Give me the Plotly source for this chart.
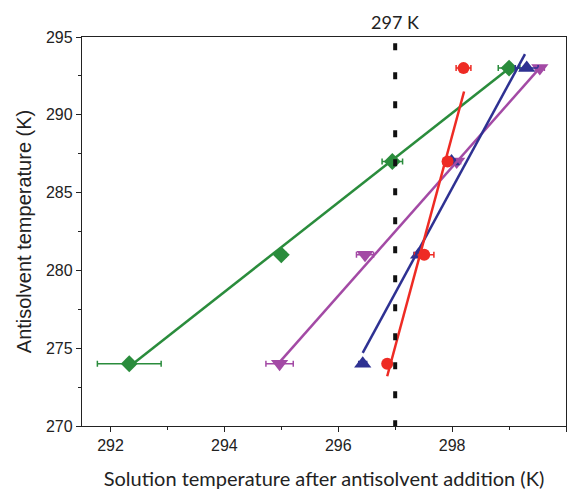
import plotly.graph_objects as go

# Antisolvent temperature levels (K)
antisolvent_T = [274, 281, 287, 293]

# Solution temperature after antisolvent addition (K) per series
green_x = [292.33, 295.0, 296.95, 299.0]
green_err = [0.56, 0.08, 0.18, 0.19]
red_x = [296.86, 297.51, 297.92, 298.2]
red_err = [0.05, 0.17, 0.08, 0.13]
blue_x = [296.43, 297.41, 297.99, 299.31]
blue_err = [0.07, 0.08, 0.06, 0.2]
purple_x = [294.97, 296.47, 298.08, 299.54]
purple_err = [0.24, 0.15, 0.07, 0.08]

# Fit line endpoints (x, y)
green_fit_x = [292.43, 299.04]
green_fit_y = [274.1, 293.1]
red_fit_x = [296.86, 298.21]
red_fit_y = [273.2, 291.5]
blue_fit_x = [296.43, 299.28]
blue_fit_y = [274.7, 293.9]
purple_fit_x = [294.97, 299.56]
purple_fit_y = [274.1, 293.1]

ref_T = 297
x_ticks = [292, 294, 296, 298, 300]
y_ticks = [270, 275, 280, 285, 290, 295]

GREEN = "#2a8c3c"
RED = "#ee2b24"
BLUE = "#2e3192"
PURPLE = "#a34aa5"

fig = go.Figure()

series = [
    (green_x, green_err, GREEN, "diamond", 13, green_fit_x, green_fit_y),
    (purple_x, purple_err, PURPLE, "triangle-down", 15, purple_fit_x, purple_fit_y),
    (blue_x, blue_err, BLUE, "triangle-up", 15, blue_fit_x, blue_fit_y),
    (red_x, red_err, RED, "circle", 12, red_fit_x, red_fit_y),
]

for xs, errs, col, sym, sz, fx, fy in series:
    fig.add_trace(go.Scatter(
        x=xs, y=antisolvent_T, mode="markers",
        marker=dict(symbol=sym, size=sz, color=col, line=dict(width=0)),
        error_x=dict(type="data", array=errs, visible=True, color=col,
                     thickness=1.5, width=3),
        showlegend=False, hoverinfo="skip", cliponaxis=False,
    ))
for xs, errs, col, sym, sz, fx, fy in series:
    fig.add_trace(go.Scatter(
        x=fx, y=fy, mode="lines",
        line=dict(color=col, width=2.5),
        showlegend=False, hoverinfo="skip",
    ))

fig.add_shape(type="line", xref="x", yref="y",
              x0=ref_T, x1=ref_T, y0=294.6, y1=270,
              line=dict(color="#111111", width=4, dash="7px,22px"))

fig.add_annotation(x=ref_T, y=1, xref="x", yref="paper",
                   text=f"{ref_T} K", showarrow=False,
                   yanchor="bottom", yshift=2,
                   font=dict(family="Lato", size=18, color="#222222"))

axis_common = dict(
    showline=True, linecolor="#222222", linewidth=1.3, mirror=True,
    ticks="outside", ticklen=5, tickwidth=1.2, tickcolor="#222222",
    showgrid=False, zeroline=False, automargin=False,
    tickfont=dict(family="Liberation Sans", size=16, color="#222222"),
)

fig.update_xaxes(
    range=[291.5, 300], tickvals=x_ticks, ticktext=[str(v) for v in x_ticks],
    minor=dict(dtick=1, ticks="outside", ticklen=3, tickcolor="#222222", tickwidth=1.2),
    title=dict(text="Solution temperature after antisolvent addition (K)",
               font=dict(family="Lato", size=20, color="#222222"), standoff=19),
    **axis_common,
)
fig.update_yaxes(
    range=[270, 295], tickvals=y_ticks, ticktext=[str(v) for v in y_ticks],
    minor=dict(dtick=2.5, ticks="outside", ticklen=3, tickcolor="#222222", tickwidth=1.2),
    title=dict(text="Antisolvent temperature (K)",
               font=dict(family="Liberation Sans", size=20, color="#222222"), standoff=8),
    **axis_common,
)

fig.update_layout(
    width=579, height=490,
    margin=dict(l=82, r=13, t=37, b=64),
    paper_bgcolor="white", plot_bgcolor="white",
)

fig.write_html(
    "out.html",
    config={"displayModeBar": False},
    post_script="document.body.style.margin='0';document.body.style.overflow='hidden';",
)
